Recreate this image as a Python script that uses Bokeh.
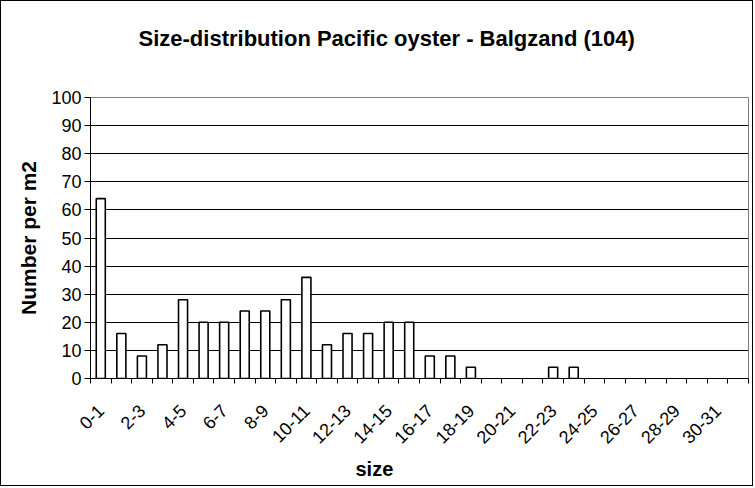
from math import pi
from bokeh.plotting import figure
from bokeh.models import Range1d, FixedTicker, Title
from bokeh.embed import file_html
from bokeh.resources import INLINE

categories = ["0-1", "1-2", "2-3", "3-4", "4-5", "5-6", "6-7", "7-8", "8-9", "9-10",
              "10-11", "11-12", "12-13", "13-14", "14-15", "15-16", "16-17", "17-18",
              "18-19", "19-20", "20-21", "21-22", "22-23", "23-24", "24-25", "25-26",
              "26-27", "27-28", "28-29", "29-30", "30-31", "31-32"]
counts = [64, 16, 8, 12, 28, 20, 20, 24, 24, 28, 36, 12, 16, 16, 20, 20, 8, 8,
          4, 0, 0, 0, 4, 4, 0, 0, 0, 0, 0, 0, 0, 0]
y_ticks = [0, 10, 20, 30, 40, 50, 60, 70, 80, 90, 100]

FONT = "Liberation Sans"
n = len(categories)
centers = [i + 0.5 for i in range(n)]

p = figure(width=753, height=486, output_backend="svg", toolbar_location=None,
           x_range=Range1d(0, n), y_range=Range1d(0, 100),
           min_border_left=89, min_border_right=6, min_border_top=93,
           min_border_bottom=109)
p.styles = {"border": "1px solid #000000"}
p.background_fill_color = "white"
p.border_fill_color = "white"
p.outline_line_color = "#808080"
p.outline_line_width = 1

bx = [c for c, v in zip(centers, counts) if v > 0]
bt = [v for v in counts if v > 0]
p.vbar(x=bx, top=bt, bottom=0, width=0.44, fill_color="white",
       line_color="black", line_width=1.6)

p.xgrid.visible = False
p.ygrid.ticker = FixedTicker(ticks=y_ticks)
p.ygrid.grid_line_color = "#000000"
p.ygrid.grid_line_width = 1

xa = p.xaxis[0]
label_pos = [centers[i] for i in range(0, n, 2)]
xa.ticker = FixedTicker(ticks=label_pos, minor_ticks=list(range(n + 1)))
xa.major_label_overrides = {centers[i]: categories[i] for i in range(0, n, 2)}
xa.major_tick_out = 0
xa.major_tick_in = 0
xa.minor_tick_out = 5
xa.minor_tick_in = 0
xa.minor_tick_line_color = "black"
xa.axis_line_color = "black"
xa.major_label_orientation = pi / 4
xa.major_label_standoff = 24
xa.major_label_text_font = FONT
xa.major_label_text_font_size = "18px"
xa.major_label_text_color = "black"

ya = p.yaxis[0]
ya.ticker = FixedTicker(ticks=y_ticks)
ya.major_tick_out = 6
ya.major_tick_in = 0
ya.minor_tick_out = 0
ya.minor_tick_in = 0
ya.axis_line_color = "black"
ya.major_tick_line_color = "black"
ya.major_label_standoff = 3
ya.major_label_text_font = FONT
ya.major_label_text_font_size = "18px"
ya.major_label_text_color = "black"
ya.axis_label = "Number per m2"
ya.axis_label_text_font = FONT
ya.axis_label_text_font_size = "21px"
ya.axis_label_text_font_style = "bold"
ya.axis_label_text_color = "black"
ya.axis_label_standoff = 8

# trailing blank line gives extra room between the title and the plot frame
title = Title(text="Size-distribution Pacific oyster - Balgzand (104)\n",
              align="left", offset=48, standoff=44,
              text_font=FONT, text_font_size="22px", text_font_style="bold",
              text_color="black")
p.add_layout(title, "above")

xtitle = Title(text="size", align="left", offset=265, standoff=7,
               text_font=FONT, text_font_size="20px", text_font_style="bold",
               text_color="black")
p.add_layout(xtitle, "below")

open("out.html", "w").write(file_html(p, INLINE))
